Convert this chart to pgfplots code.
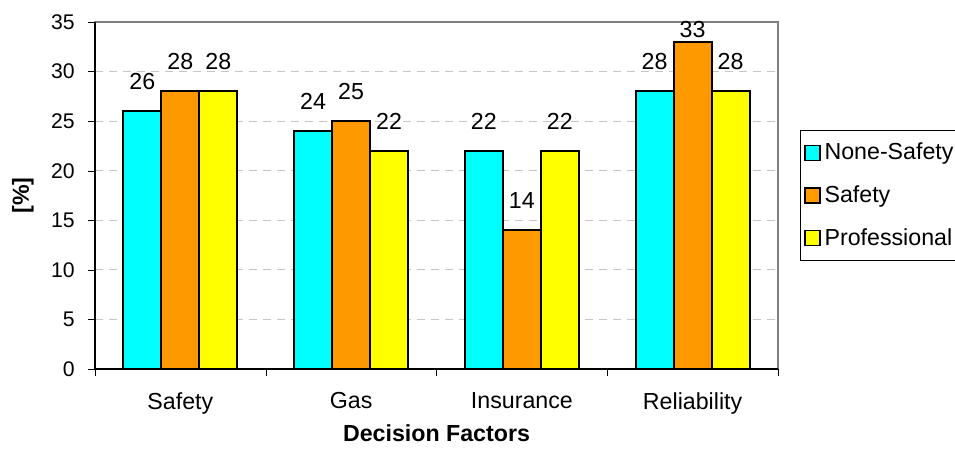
\documentclass[border=0pt]{standalone}
\usepackage{pgfplots}
\pgfplotsset{compat=1.18}
\usepackage{fontspec}
\setmainfont{Liberation Sans}
\usetikzlibrary{calc}

\definecolor{cnone}{RGB}{0,255,255}
\definecolor{csafe}{RGB}{255,153,0}
\definecolor{cprof}{RGB}{255,255,0}

\newcommand\labfont{\fontsize{11.6}{13}\selectfont}
\newcommand\tickfont{\fontsize{10.6}{12}\selectfont}

\pgfplotsset{
    sq legend/.style={legend image code/.code={\draw[##1, draw=black, line width=0.6pt] (0pt,-3.75pt) rectangle (7.5pt,3.75pt);}},
}

\begin{document}
\begin{tikzpicture}
    \begin{axis}[
            scale only axis,
            width=341.5pt,
            height=173.5pt,
            ybar=0pt,
            bar width=19pt,
            xmin=-0.5, xmax=3.5,
            ymin=0, ymax=35,
            ytick={0,5,...,35},
            xtick={0,1,2,3},
            xticklabels={Safety, Gas, Insurance, Reliability},
            xtick pos=bottom,
            ytick pos=left,
            major tick length=3.5pt,
            x tick style={draw=none},
            extra x ticks={-0.5,0.5,1.5,2.5,3.5},
            extra x tick labels={},
            extra x tick style={grid=none, x tick style={draw=black}},
            y tick style={draw=black},
            tick align=outside,
            axis line style={gray, line width=0.6pt},
            ymajorgrids,
            major grid style={gray!45, dash pattern=on 4pt off 3pt, line width=0.4pt},
            yticklabel style={font=\tickfont, inner sep=0pt, anchor=east, xshift=-6.5pt},
            xticklabel style={font=\labfont, inner sep=0pt, anchor=north, yshift=-8pt},
            /pgf/number format/assume math mode=true,
            xlabel={\bfseries Decision Factors},
            ylabel={\bfseries [\%]},
            every axis x label/.style={at={(axis description cs:0.5,0)}, yshift=-32pt, anchor=center, font=\labfont},
            every axis y label/.style={at={(axis description cs:0,0.5)}, xshift=-36pt, rotate=90, anchor=center, font=\labfont},
            nodes near coords,
            every node near coord/.append style={font=\labfont, inner sep=0pt, anchor=south, yshift=10.3pt, black},
            clip=false,
            legend style={at={(1.032,0.5)}, anchor=west, draw=black, line width=0.5pt, font=\labfont,
                    row sep=7.5pt, inner xsep=2pt, inner ysep=4pt, cells={anchor=west}},
            legend cell align=left,
        ]

        % None-Safety
        \addplot[fill=cnone, draw=black, line width=0.9pt, sq legend] coordinates {
                (0, 26) (1, 24) (2, 22) (3, 28)
            };
        \addlegendentry{None-Safety}

        % Safety
        \addplot[fill=csafe, draw=black, line width=0.9pt, sq legend,
            visualization depends on=rawy \as \rawy,
            every node near coord/.append style={yshift={(\rawy>30)*(-8.5pt)}}] coordinates {
                (0, 28) (1, 25) (2, 14) (3, 33)
            };
        \addlegendentry{Safety}

        % Professional
        \addplot[fill=cprof, draw=black, line width=0.9pt, sq legend] coordinates {
                (0, 28) (1, 22) (2, 22) (3, 28)
            };
        \addlegendentry{Professional}

        \draw[black, line width=0.7pt] (rel axis cs:0,1) -- (rel axis cs:0,0) -- (rel axis cs:1,0);
    \end{axis}
    \pgfresetboundingbox
    \path ($(current axis.south west)+(-47.5pt,-42.5pt)$) rectangle ($(current axis.north east)+(88.5pt,11pt)$);
\end{tikzpicture}
\end{document}
